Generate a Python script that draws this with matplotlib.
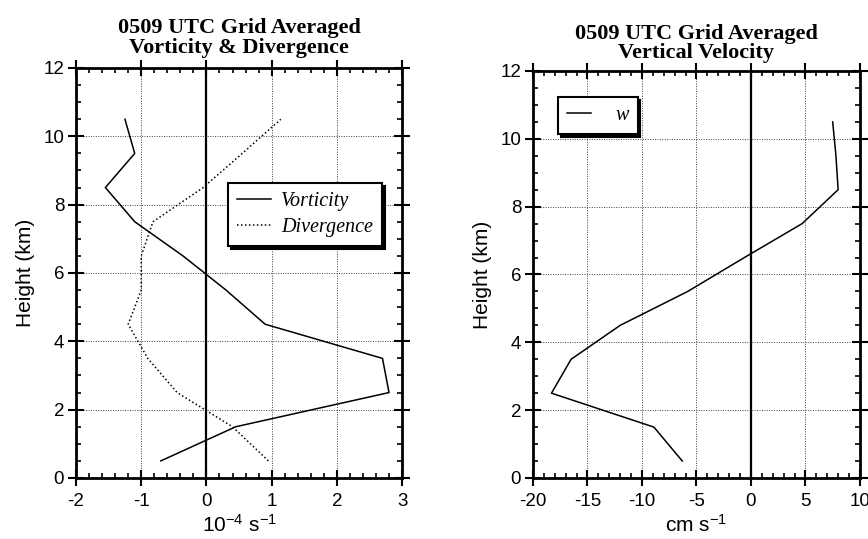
import matplotlib
matplotlib.use('Agg')
import matplotlib.pyplot as plt
from matplotlib.ticker import MultipleLocator

# heights of the grid levels (km)
HEIGHTS = [0.5, 1.5, 2.5, 3.5, 4.5, 5.5, 6.5, 7.5, 8.5, 9.5, 10.5]
# 10^-4 s^-1
VORTICITY = [-0.7, 0.45, 2.8, 2.7, 0.9, 0.3, -0.36, -1.1, -1.55, -1.1, -1.25]
DIVERGENCE = [0.95, 0.4, -0.45, -0.9, -1.2, -1.0, -1.0, -0.82, -0.05, 0.55, 1.14]
# cm s^-1
W = [-6.3, -8.9, -18.3, -16.5, -12.0, -5.8, -0.6, 4.7, 8.0, 7.8, 7.5]

TITLE_LEFT = "0509 UTC Grid Averaged\nVorticity & Divergence"
TITLE_RIGHT = "0509 UTC Grid Averaged\nVertical Velocity"

plt.rcParams['font.family'] = ['Liberation Sans', 'DejaVu Sans']
plt.rcParams['axes.unicode_minus'] = False
plt.rcParams['mathtext.fontset'] = 'custom'
plt.rcParams['mathtext.rm'] = 'Liberation Sans'
plt.rcParams['mathtext.it'] = 'Liberation Sans:italic'

SERIF = ['Liberation Serif', 'DejaVu Serif']


def style_axes(ax, xlim, xmajor, xminor):
    ax.set_xlim(*xlim)
    ax.set_ylim(0, 12)
    ax.xaxis.set_major_locator(MultipleLocator(xmajor))
    ax.xaxis.set_minor_locator(MultipleLocator(xminor))
    ax.yaxis.set_major_locator(MultipleLocator(2))
    ax.yaxis.set_minor_locator(MultipleLocator(0.5))
    ax.tick_params(which='major', direction='inout', length=11, width=1.5,
                   top=True, right=True, labelsize=13.5, pad=3)
    ax.tick_params(axis='x', which='major', pad=5)
    ax.tick_params(which='minor', direction='in', length=3.5, width=1.2,
                   top=True, right=True)
    for s in ax.spines.values():
        s.set_linewidth(2.0)
    ax.grid(True, which='major', linestyle=(0, (1, 1.5)), color='0.25', linewidth=0.7)
    ax.axvline(0, color='black', linewidth=1.6, zorder=2)
    ax.set_ylabel("Height (km)", fontsize=15, labelpad=6)


def legend(ax, anchor, handletextpad, handlelength):
    ax.legend(loc='upper left', bbox_to_anchor=anchor, borderaxespad=0,
              prop={'family': SERIF, 'style': 'italic', 'size': 14.5},
              fancybox=False, edgecolor='black', framealpha=1,
              shadow={'ox': 2, 'oy': -2, 'color': 'black', 'alpha': 1},
              handlelength=handlelength, handletextpad=handletextpad,
              borderpad=0.45, labelspacing=0.35)
    ax.get_legend().get_frame().set_linewidth(1.5)


def start():
    fig = plt.figure(figsize=(8.68, 5.39), dpi=100)

    ax1 = fig.add_axes([0.0876, 0.1132, 0.3756, 0.7607])
    ax1.plot(VORTICITY, HEIGHTS, color='black', linewidth=1.1, label='Vorticity')
    ax1.plot(DIVERGENCE, HEIGHTS, color='black', linewidth=1.1, linestyle=(0, (1, 1.6)),
             label='Divergence')
    style_axes(ax1, (-2, 3), 1, 0.2)
    ax1.set_xlabel(r'$\mathdefault{10^{-4}\ s^{-1}}$', fontsize=15, labelpad=3)
    ax1.set_title(TITLE_LEFT, family=SERIF, fontweight='bold', fontsize=16,
                  linespacing=0.95, pad=11)
    legend(ax1, (0.466, 0.72), 0.5, 1.7)

    ax2 = fig.add_axes([0.614, 0.1132, 0.3767, 0.7551])
    ax2.plot(W, HEIGHTS, color='black', linewidth=1.1, label='w')
    style_axes(ax2, (-20, 10), 5, 1)
    ax2.set_xlabel(r'$\mathdefault{cm\ s^{-1}}$', fontsize=15, labelpad=3)
    ax2.set_title(TITLE_RIGHT, family=SERIF, fontweight='bold', fontsize=16,
                  linespacing=0.95, pad=9)
    legend(ax2, (0.076, 0.936), 1.2, 1.2)

    fig.savefig('out.png', dpi=100)


if __name__ == '__main__':
    start()
